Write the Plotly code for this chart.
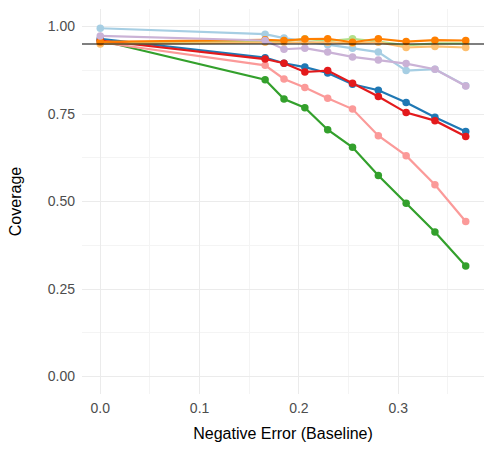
import plotly.graph_objects as go

x_vals = [0.0, 0.166, 0.185, 0.206, 0.229, 0.254, 0.280, 0.308, 0.337, 0.368]

light_blue = [0.995, 0.978, 0.967, 0.958, 0.948, 0.938, 0.927, 0.874, 0.878, 0.831]
dark_blue = [0.965, 0.911, 0.895, 0.884, 0.867, 0.835, 0.818, 0.783, 0.741, 0.700]
light_green = [0.955, 0.957, 0.957, 0.965, 0.958, 0.965, 0.957, 0.946, 0.952, 0.952]
green = [0.960, 0.848, 0.793, 0.768, 0.705, 0.655, 0.574, 0.495, 0.413, 0.316]
pink = [0.955, 0.889, 0.850, 0.826, 0.795, 0.764, 0.688, 0.631, 0.548, 0.443]
red = [0.960, 0.907, 0.895, 0.870, 0.874, 0.838, 0.800, 0.754, 0.731, 0.686]
light_orange = [0.950, 0.955, 0.955, 0.955, 0.955, 0.952, 0.955, 0.940, 0.943, 0.940]
orange = [0.956, 0.962, 0.960, 0.964, 0.965, 0.955, 0.965, 0.957, 0.961, 0.960]
light_purple = [0.973, 0.960, 0.935, 0.938, 0.927, 0.913, 0.904, 0.894, 0.878, 0.830]

series = [
    ("s1", light_blue, "#A6CEE3"),
    ("s2", dark_blue, "#1F78B4"),
    ("s3", light_green, "#B2DF8A"),
    ("s4", green, "#33A02C"),
    ("s5", pink, "#FB9A99"),
    ("s6", red, "#E31A1C"),
    ("s7", light_orange, "#FDBF6F"),
    ("s8", orange, "#FF7F00"),
    ("s9", light_purple, "#CAB2D6"),
]

target = 0.95
y_ticks = [0.0, 0.25, 0.5, 0.75, 1.0]
y_tick_text = ["0.00", "0.25", "0.50", "0.75", "1.00"]
x_ticks = [0.0, 0.1, 0.2, 0.3]
x_tick_text = ["0.0", "0.1", "0.2", "0.3"]

fig = go.Figure()
for name, ys, col in series:
    fig.add_trace(go.Scatter(
        x=x_vals, y=ys, mode="lines+markers", name=name,
        line=dict(color=col, width=2.2),
        marker=dict(color=col, size=7.5),
        showlegend=False,
    ))

fig.add_hline(y=target, line=dict(color="black", width=1.1), layer="above")

font_family = "Liberation Sans, Arial, sans-serif"
grid_col = "#EBEBEB"
minor_col = "#F4F4F4"

fig.update_layout(
    width=486, height=461,
    margin=dict(l=81.5, r=1.5, t=9, b=67),
    paper_bgcolor="white", plot_bgcolor="white",
    font=dict(family=font_family),
    xaxis=dict(
        range=[-0.0184, 0.3864],
        tickvals=x_ticks, ticktext=x_tick_text,
        tickfont=dict(size=14, color="#4D4D4D"),
        showgrid=True, gridcolor=grid_col, gridwidth=1.1,
        zeroline=False, showline=False, ticks="",
        ticklabelstandoff=4,
        minor=dict(tickvals=[0.05, 0.15, 0.25, 0.35], showgrid=True, gridcolor=minor_col, gridwidth=0.8),
        title=dict(text="Negative Error (Baseline)", font=dict(size=16, color="black"), standoff=12),
        automargin=False,
    ),
    yaxis=dict(
        range=[-0.05, 1.05],
        tickvals=y_ticks, ticktext=y_tick_text,
        tickfont=dict(size=14, color="#4D4D4D"),
        showgrid=True, gridcolor=grid_col, gridwidth=1.1,
        zeroline=False, showline=False, ticks="",
        ticklabelstandoff=6,
        minor=dict(tickvals=[0.125, 0.375, 0.625, 0.875], showgrid=True, gridcolor=minor_col, gridwidth=0.8),
        title=dict(text="Coverage", font=dict(size=16, color="black"), standoff=22),
        automargin=False,
    ),
)

fig.write_html("out.html")
